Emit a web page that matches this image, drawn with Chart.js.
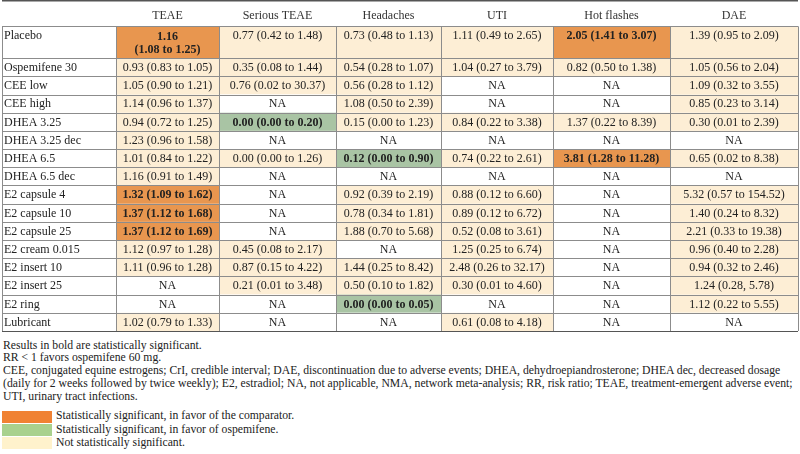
<!DOCTYPE html>
<html lang="en">
<head>
  <meta charset="UTF-8">
  <title>Ospemifene NMA - adverse events</title>
  <script src="https://cdn.jsdelivr.net/npm/chart.js"></script>
  <style>
    body {
      margin: 0;
      background: #fff;
      font-family: 'Liberation Serif', 'Times New Roman', serif;
      color: #222;
    }
    .table-box { position: absolute; left: 0; top: 0; width: 800px; height: 332px; }
    .notes {
      position: absolute;
      left: 3px;
      top: 339.6px;
      font-size: 11.7px;
      line-height: 12.8px;
      color: #222;
      white-space: nowrap;
    }
    .keys { margin-top: 6.4px; }
    .key { display: flex; align-items: center; height: 13.4px; }
    .swatch { width: 50px; height: 12px; margin: 0 4px 0 -1px; }
  </style>
</head>
<body>
  <div class="table-box"><canvas id="tbl" width="800" height="332"></canvas></div>
  <div class="notes">
    <div>Results in bold are statistically significant.</div>
    <div>RR &lt; 1 favors ospemifene 60 mg.</div>
    <div>CEE, conjugated equine estrogens; CrI, credible interval; DAE, discontinuation due to adverse events; DHEA, dehydroepiandrosterone; DHEA dec, decreased dosage</div>
    <div>(daily for 2 weeks followed by twice weekly); E2, estradiol; NA, not applicable, NMA, network meta-analysis; RR, risk ratio; TEAE, treatment-emergent adverse event;</div>
    <div>UTI, urinary tract infections.</div>
    <div class="keys">
      <div class="key"><span class="swatch" style="background:#f08233"></span>Statistically significant, in favor of the comparator.</div>
      <div class="key"><span class="swatch" style="background:#a9d18e"></span>Statistically significant, in favor of ospemifene.</div>
      <div class="key"><span class="swatch" style="background:#fff2cc"></span>Not statistically significant.</div>
    </div>
  </div>

  <script>
    // comparators (rows) and outcomes (columns)
    const rows = ['Placebo', 'Ospemifene 30', 'CEE low', 'CEE high', 'DHEA 3.25', 'DHEA 3.25 dec',
      'DHEA 6.5', 'DHEA 6.5 dec', 'E2 capsule 4', 'E2 capsule 10', 'E2 capsule 25', 'E2 cream 0.015',
      'E2 insert 10', 'E2 insert 25', 'E2 ring', 'Lubricant'];
    const outcomes = ['TEAE', 'Serious TEAE', 'Headaches', 'UTI', 'Hot flashes', 'DAE'];

    // risk ratio, lower and upper CrI per outcome (null = NA)
    const teaeRR = [1.16, 0.93, 1.05, 1.14, 0.94, 1.23, 1.01, 1.16, 1.32, 1.37, 1.37, 1.12, 1.11, null, null, 1.02];
    const teaeLo = [1.08, 0.83, 0.90, 0.96, 0.72, 0.96, 0.84, 0.91, 1.09, 1.12, 1.12, 0.97, 0.96, null, null, 0.79];
    const teaeHi = [1.25, 1.05, 1.21, 1.37, 1.25, 1.58, 1.22, 1.49, 1.62, 1.68, 1.69, 1.28, 1.28, null, null, 1.33];

    const seriousRR = [0.77, 0.35, 0.76, null, 0.00, null, 0.00, null, null, null, null, 0.45, 0.87, 0.21, null, null];
    const seriousLo = [0.42, 0.08, 0.02, null, 0.00, null, 0.00, null, null, null, null, 0.08, 0.15, 0.01, null, null];
    const seriousHi = [1.48, 1.44, 30.37, null, 0.20, null, 1.26, null, null, null, null, 2.17, 4.22, 3.48, null, null];

    const headRR = [0.73, 0.54, 0.56, 1.08, 0.15, null, 0.12, null, 0.92, 0.78, 1.88, null, 1.44, 0.50, 0.00, null];
    const headLo = [0.48, 0.28, 0.28, 0.50, 0.00, null, 0.00, null, 0.39, 0.34, 0.70, null, 0.25, 0.10, 0.00, null];
    const headHi = [1.13, 1.07, 1.12, 2.39, 1.23, null, 0.90, null, 2.19, 1.81, 5.68, null, 8.42, 1.82, 0.05, null];

    const utiRR = [1.11, 1.04, null, null, 0.84, null, 0.74, null, 0.88, 0.89, 0.52, 1.25, 2.48, 0.30, null, 0.61];
    const utiLo = [0.49, 0.27, null, null, 0.22, null, 0.22, null, 0.12, 0.12, 0.08, 0.25, 0.26, 0.01, null, 0.08];
    const utiHi = [2.65, 3.79, null, null, 3.38, null, 2.61, null, 6.60, 6.72, 3.61, 6.74, 32.17, 4.60, null, 4.18];

    const hotRR = [2.05, 0.82, null, null, 1.37, null, 3.81, null, null, null, null, null, null, null, null, null];
    const hotLo = [1.41, 0.50, null, null, 0.22, null, 1.28, null, null, null, null, null, null, null, null, null];
    const hotHi = [3.07, 1.38, null, null, 8.39, null, 11.28, null, null, null, null, null, null, null, null, null];

    const daeRR = [1.39, 1.05, 1.09, 0.85, 0.30, null, 0.65, null, 5.32, 1.40, 2.21, 0.96, 0.94, 1.24, 1.12, null];
    const daeLo = [0.95, 0.56, 0.32, 0.23, 0.01, null, 0.02, null, 0.57, 0.24, 0.33, 0.40, 0.32, 0.28, 0.22, null];
    const daeHi = [2.09, 2.04, 3.55, 3.14, 2.39, null, 8.38, null, 154.52, 8.32, 19.38, 2.28, 2.46, 5.78, 5.55, null];

    const series = [
      [teaeRR, teaeLo, teaeHi],
      [seriousRR, seriousLo, seriousHi],
      [headRR, headLo, headHi],
      [utiRR, utiLo, utiHi],
      [hotRR, hotLo, hotHi],
      [daeRR, daeLo, daeHi]
    ];

    // layout: column widths and row heights in table units
    const colWidths = [114, 103, 117, 105, 112, 117, 128];
    const headerHeight = 26.2;
    const rowHeights = rows.map((r, i) => i === 0 ? 31.6 : 18.08);
    const twoLineCells = ['0,0'];   // row,col printed on two lines in the source

    const colors = { comparator: '#e8964f', ospemifene: '#a9c4a4', ns: '#fdeed5', na: '#ffffff' };
    const FONT = "12px 'Liberation Serif'";

    const colEdges = [0];
    colWidths.forEach(w => colEdges.push(colEdges[colEdges.length - 1] + w));
    const rowEdges = [headerHeight];
    rowHeights.forEach(h => rowEdges.push(rowEdges[rowEdges.length - 1] + h));

    function cellInfo(c, r) {
      const [rr, lo, hi] = series[c];
      if (rr[r] === null) return { text: 'NA', fill: colors.na, bold: false };
      const sep = (c === 5 && r === 13) ? ', ' : ' to ';
      const text = `${rr[r].toFixed(2)} (${lo[r].toFixed(2)}${sep}${hi[r].toFixed(2)})`;
      if (lo[r] > 1) return { text, fill: colors.comparator, bold: true };
      if (hi[r] < 1) return { text, fill: colors.ospemifene, bold: true };
      return { text, fill: colors.ns, bold: false };
    }

    const tablePlugin = {
      id: 'tableCells',
      afterDraw(chart) {
        const ctx = chart.ctx;
        const x = chart.scales.x, y = chart.scales.y;
        const px = v => x.getPixelForValue(v);
        const py = v => y.getPixelForValue(v);
        const right = px(colEdges[colEdges.length - 1]);
        ctx.save();

        // cell fills
        rows.forEach((row, r) => {
          outcomes.forEach((o, c) => {
            const info = cellInfo(c, r);
            ctx.fillStyle = info.fill;
            ctx.fillRect(px(colEdges[c + 1]), py(rowEdges[r]), px(colEdges[c + 2]) - px(colEdges[c + 1]), py(rowEdges[r + 1]) - py(rowEdges[r]));
          });
        });

        // grid lines
        ctx.strokeStyle = '#8c8c8c';
        ctx.lineWidth = 1;
        ctx.beginPath();
        rowEdges.forEach(v => {
          const yy = Math.round(py(v)) + 0.5;
          ctx.moveTo(px(0), yy);
          ctx.lineTo(right, yy);
        });
        colEdges.forEach(v => {
          const xx = Math.round(px(v)) + 0.5;
          ctx.moveTo(xx, py(rowEdges[0]));
          ctx.lineTo(xx, py(rowEdges[rowEdges.length - 1]));
        });
        ctx.stroke();

        // heavy rules top and bottom
        ctx.strokeStyle = '#555';
        ctx.lineWidth = 1.5;
        ctx.beginPath();
        ctx.moveTo(px(0), py(0) + 0.75);
        ctx.lineTo(right, py(0) + 0.75);
        const yb = Math.round(py(rowEdges[rowEdges.length - 1])) + 0.75;
        ctx.moveTo(px(0), yb);
        ctx.lineTo(right, yb);
        ctx.stroke();

        // header text
        ctx.fillStyle = '#333';
        ctx.textAlign = 'center';
        ctx.textBaseline = 'middle';
        ctx.font = FONT;
        outcomes.forEach((o, c) => {
          ctx.fillText(o, (px(colEdges[c + 1]) + px(colEdges[c + 2])) / 2, py(16));
        });

        // row labels and values
        rows.forEach((row, r) => {
          const top = py(rowEdges[r]);
          ctx.fillStyle = '#222';
          ctx.textAlign = 'left';
          ctx.font = FONT;
          ctx.fillText(row, px(colEdges[0]) + 2, top + 9.8);
          ctx.textAlign = 'center';
          outcomes.forEach((o, c) => {
            const info = cellInfo(c, r);
            const cx = (px(colEdges[c + 1]) + px(colEdges[c + 2])) / 2;
            ctx.font = (info.bold ? 'bold ' : '') + FONT;
            if (twoLineCells.includes(r + ',' + c)) {
              const k = info.text.indexOf(' (');
              ctx.fillText(info.text.slice(0, k), cx, top + 10.4);
              ctx.fillText(info.text.slice(k + 1), cx, top + 23.8);
            } else {
              ctx.fillText(info.text, cx, top + 9.8);
            }
          });
        });
        ctx.restore();
      }
    };

    new Chart(document.getElementById('tbl'), {
      type: 'scatter',
      data: { datasets: [] },
      options: {
        responsive: false,
        animation: false,
        layout: { padding: { left: 2, right: 2, top: 0, bottom: 1 } },
        plugins: { legend: { display: false }, tooltip: { enabled: false } },
        scales: {
          x: { type: 'linear', min: 0, max: colEdges[colEdges.length - 1], display: false },
          y: { type: 'linear', reverse: true, min: 0, max: rowEdges[rowEdges.length - 1], display: false }
        }
      },
      plugins: [tablePlugin]
    });
  </script>
</body>
</html>
